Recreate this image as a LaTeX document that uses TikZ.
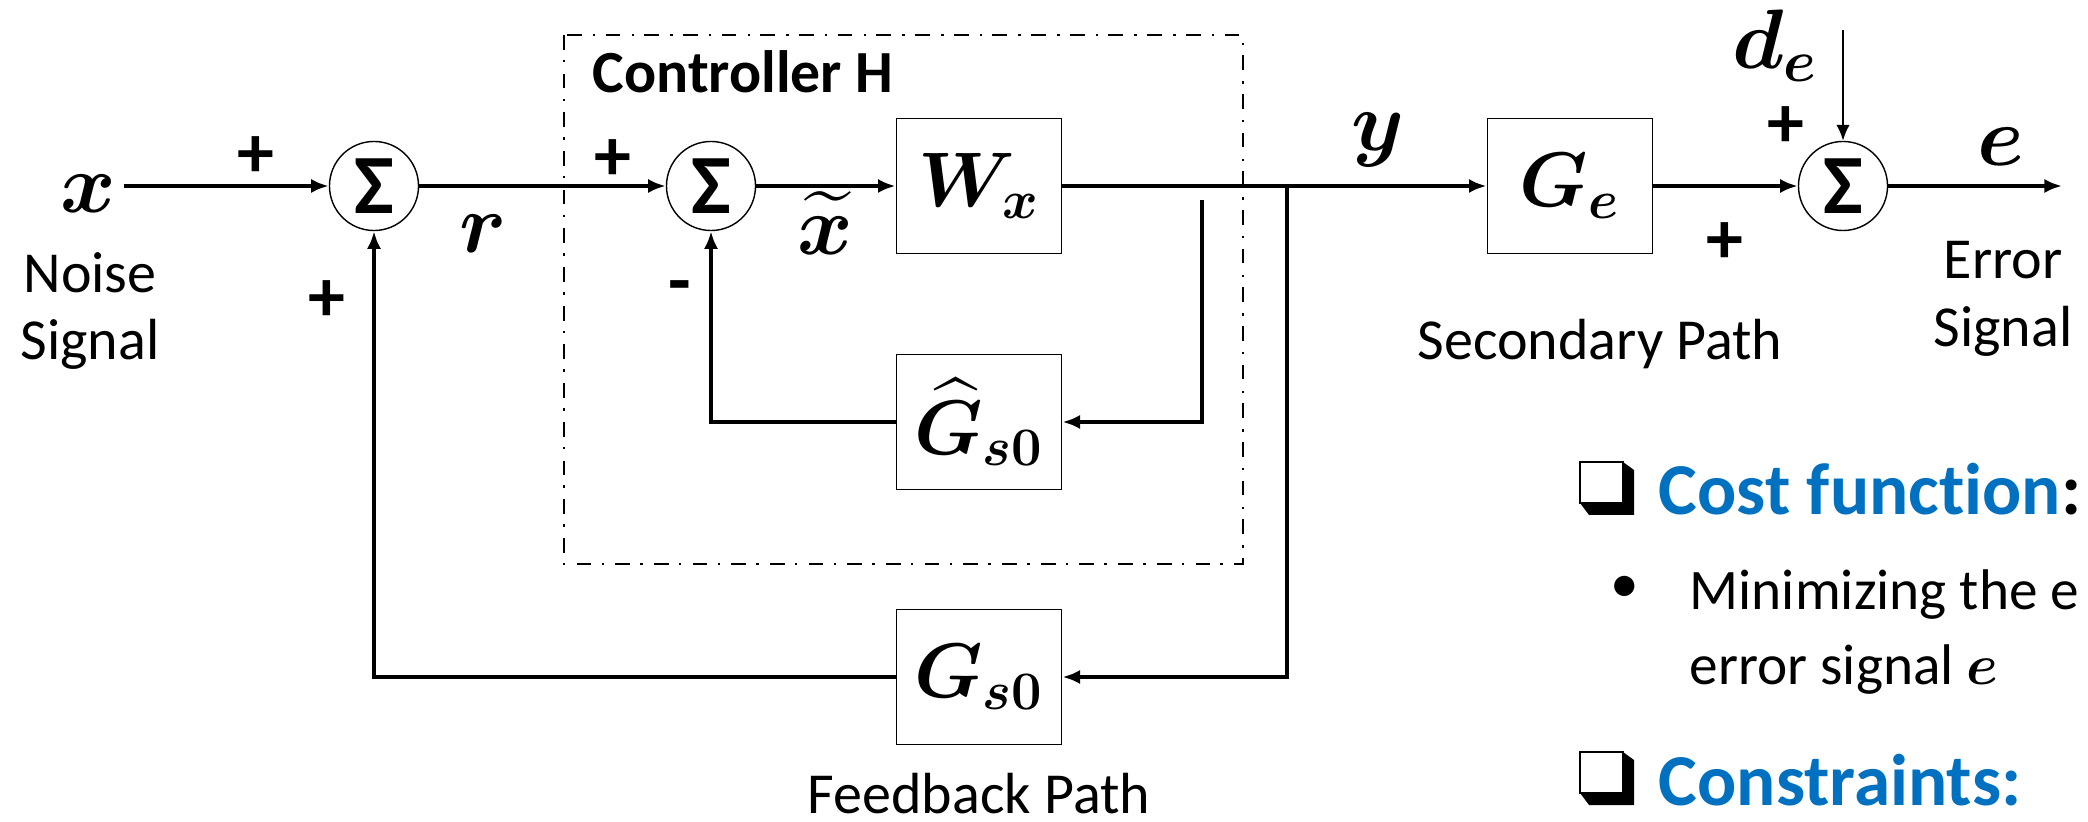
\RequirePackage{fix-cm}
\documentclass[tikz,border=0pt]{standalone}
\usepackage{amsmath,amssymb}
\usepackage{bm}
\usepackage{fontspec}
\setmainfont{Carlito}[Ligatures=NoCommon]
\usetikzlibrary{positioning, calc}
\usetikzlibrary{arrows.meta}
\definecolor{costblue}{HTML}{0070C0}

\begin{document}
\begin{tikzpicture}[
  x=0.01cm, y=-0.01cm,
  blocco/.style={draw, line width=0.5pt, minimum width=1.65cm, minimum height=1.35cm,
    inner sep=0pt, font=\fontsize{22}{22}\selectfont},
  somma/.style={draw, circle, line width=0.4pt, minimum size=0.89cm, inner sep=0pt,
    font=\fontsize{24}{24}\selectfont\bfseries},
  segnale/.style={line width=1.25pt, -{Latex[length=5pt,width=4pt]}},
  disturbo/.style={line width=0.6pt, -{Latex[length=4.5pt,width=3.8pt]}},
  etichetta/.style={inner sep=2pt, font=\fontsize{24}{24}\selectfont},
  segno/.style={inner sep=0pt, font=\fontsize{21}{21}\selectfont\bfseries},
  testo/.style={inner sep=0pt, align=center, font=\fontsize{16.5}{19.3}\selectfont},
  titolo/.style={anchor=base west, inner sep=0pt, text=costblue,
    font=\fontsize{20.8}{25}\selectfont\bfseries},
  voce/.style={anchor=base west, inner sep=0pt, font=\fontsize{16.3}{19}\selectfont},
  cornice/.style={line width=0.8pt, dash pattern=on 4.2pt off 2.9pt on 0.7pt off 3.2pt}
]
  \useasboundingbox (0,0) rectangle (2088,822);
  \clip (0,0) rectangle (2088,822);

  % Sommatori
  \node[somma] (s1) at (374,186) {Σ};
  \node[somma] (s2) at (711,186) {Σ};
  \node[somma] (s3) at (1843,186) {Σ};

  % --- blocchi ---
  \node[blocco] (wx) at (979,186) {$\boldsymbol{W_x}$};
  \node[blocco] (ghat) at (979,422) {$\widehat{\boldsymbol{G}}_{\boldsymbol{s0}}$};
  \node[blocco] (gs0) at (979,677) {$\boldsymbol{G_{s0}}$};
  \node[blocco] (ge) at (1570,186) {$\boldsymbol{G_e}$};

  % --- controllore H ---
  \draw[cornice] (564,35) rectangle (1243,564);
  \node[anchor=base west, inner sep=0pt, font=\fontsize{17}{17}\selectfont\bfseries]
    (ctrl) at (592,93) {Controller H};

  % --- etichette dei segnali ---
  \node[etichetta] (x) at (88,194) {$\boldsymbol{x}$};
  \node[testo] (noise) at (90,311) {Noise\\Signal};
  \node[etichetta] (r) at (483,234) {$\boldsymbol{r}$};
  \node[etichetta] (xt) at (825,223) {$\widetilde{\boldsymbol{x}}$};
  \node[etichetta] (y) at (1378,140) {$\boldsymbol{y}$};
  \node[etichetta] (de) at (1775,46) {$\boldsymbol{d_e}$};
  \node[etichetta] (e) at (2001,147) {$\boldsymbol{e}$};
  \node[testo] (err) at (2003,299) {Error\\Signal};
  \node[testo] (sec) at (1600,344) {Secondary Path};
  \node[testo] (fb) at (979,794) {Feedback Path};

  % --- segni ---
  \node[segno] (p1) at (256,157) {+};
  \node[segno] (p2) at (327,301) {+};
  \node[segno] (p3) at (613,160) {+};
  \node[segno] (m1) at (680,293) {-};
  \node[segno] (p4) at (1725,243) {+};
  \node[segno] (p5) at (1786,127) {+};

  % --- collegamenti ---
  \coordinate (b1) at (1202,200);
  \coordinate (b2) at (1287,186);
  \coordinate (dein) at (1843,30);
  \coordinate (eout) at (2062,186);
  \draw[segnale] (x.east |- s1.west) -- (s1.west);
  \draw[segnale] (s1.east) -- (s2.west);
  \draw[segnale] (s2.east) -- (wx.west);
  \draw[segnale] (wx.east) -- (ge.west);
  \draw[segnale] (ge.east) -- (s3.west);
  \draw[segnale] (s3.east) -- (eout);
  \draw[disturbo] (dein) -- (s3.north);
  \draw[segnale] (b1) |- (ghat.east);
  \draw[segnale] (ghat.west) -| (s2.south);
  \draw[segnale] (b2) |- (gs0.east);
  \draw[segnale] (gs0.west) -| (s1.south);

  % --- obiettivi ---
  \foreach \yy in {462,752} {
    \fill (1623,\yy) -- (1634,{\yy+8}) -- (1634,{\yy+53}) -- (1589,{\yy+53})
      -- (1580,{\yy+41}) -- (1623,{\yy+41}) -- cycle;
    \filldraw[fill=white, line width=0.7pt] (1580,\yy) rectangle (1623,{\yy+41});
  }
  \node[titolo] (cost) at (1658,515) {Cost function\textcolor{black}{:}};
  \node[inner sep=0pt, font=\fontsize{16.3}{19}\selectfont] (bul) at (1625,589) {•};
  \node[voce] (min1) at (1689,610) {Minimizing the e};
  \node[voce] (min2) at (1689,685) {error signal $\boldsymbol{e}$};
  \node[titolo] (cons) at (1658,805) {Constraints:};
\end{tikzpicture}
\end{document}
